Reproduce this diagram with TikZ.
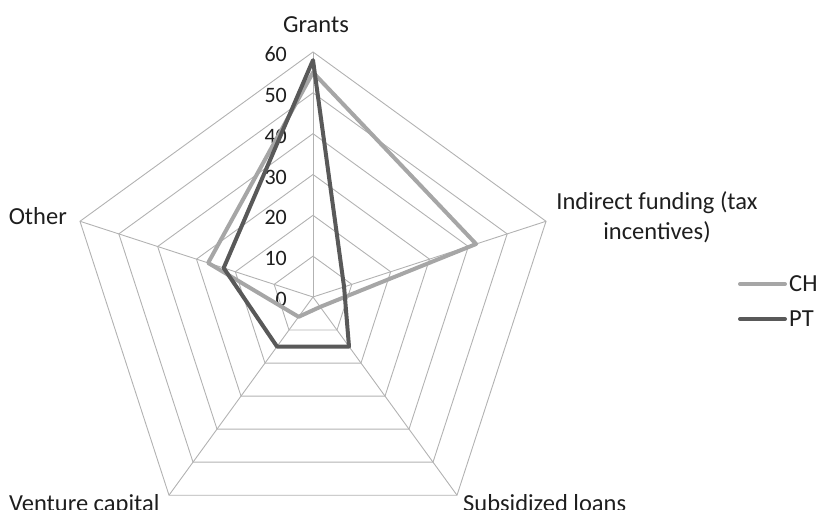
\documentclass[tikz,border=0pt]{standalone}
\usepackage{fontspec}
\setmainfont{Carlito}
\definecolor{gridgray}{RGB}{178,178,178}
\definecolor{chgray}{RGB}{166,166,166}
\definecolor{ptgray}{RGB}{89,89,89}
\definecolor{txt}{RGB}{30,30,30}
\begin{document}
\begin{tikzpicture}[x=1pt,y=1pt,
  gridline/.style={draw=gridgray, line width=0.9pt},
  series/.style={line width=4pt, line join=round},
  chser/.style={series, draw=chgray},
  ptser/.style={series, draw=ptgray},
  lab/.style={font=\fontsize{24.5}{30}\selectfont, text=txt, inner sep=0pt},
  ticklab/.style={font=\fontsize{22}{26}\selectfont, text=txt, inner sep=0pt},
  legline/.style={line width=4pt, line cap=round}
]
\useasboundingbox (0,0) rectangle (819,510);
\coordinate (O) at (313,213);
\def\u{4.0833}
% grid
\begin{scope}[shift={(O)}]
  \foreach \k in {1,...,6}{
    \draw[gridline] (90:\k*40.833) -- (18:\k*40.833) -- (-54:\k*40.833) -- (-126:\k*40.833) -- (162:\k*40.833) -- cycle;
  }
  \foreach \a/\n in {90/vg,18/vi,-54/vs,-126/vv,162/vo}{
    \coordinate (\n) at (\a:245);
  }
\end{scope}
\foreach \n in {vg,vi,vs,vv,vo}{ \draw[gridline] (O) -- (\n); }
% tick labels
\foreach \k in {0,...,6}{
  \pgfmathtruncatemacro{\v}{\k*10}
  \node[ticklab, anchor=east] (t\k) at (287, 213+\k*40.833-2.5) {\v};
}
% data
\begin{scope}[shift={(O)}]
  \coordinate (c1) at (90:55*\u);
  \coordinate (c2) at (18:42*\u);
  \coordinate (c3) at (-54:3*\u);
  \coordinate (c4) at (-126:6*\u);
  \coordinate (c5) at (162:27*\u);
  \coordinate (p1) at (90:58*\u);
  \coordinate (p2) at (18:8*\u);
  \coordinate (p3) at (-54:15*\u);
  \coordinate (p4) at (-126:15*\u);
  \coordinate (p5) at (162:23*\u);
\end{scope}
\draw[chser] (c1) -- (c2) -- (c3) -- (c4) -- (c5) -- cycle;
\draw[ptser] (p1) -- (p2) -- (p3) -- (p4) -- (p5) -- cycle;
% axis labels
\node[lab, anchor=base] (lg) at (316,477) {Grants};
\node[lab, anchor=base] (li1) at (657,300) {Indirect funding (tax};
\node[lab, anchor=base] (li2) at (657,270) {incentives)};
\node[lab, anchor=base east] (lo) at (67,285) {Other};
\node[lab, anchor=base west] (lv) at (9,-1.5) {Venture capital};
\node[lab, anchor=base west] (ls) at (463,-1.5) {Subsidized loans};
% legend
\coordinate (ch1) at (740,226);
\coordinate (ch2) at (785,226);
\coordinate (pt1) at (740,191);
\coordinate (pt2) at (785,191);
\draw[legline, draw=chgray] (ch1) -- (ch2);
\draw[legline, draw=ptgray] (pt1) -- (pt2);
\node[lab, anchor=west] (lch) at (789,226) {CH};
\node[lab, anchor=west] (lpt) at (789,191) {PT};
\end{tikzpicture}
\end{document}
